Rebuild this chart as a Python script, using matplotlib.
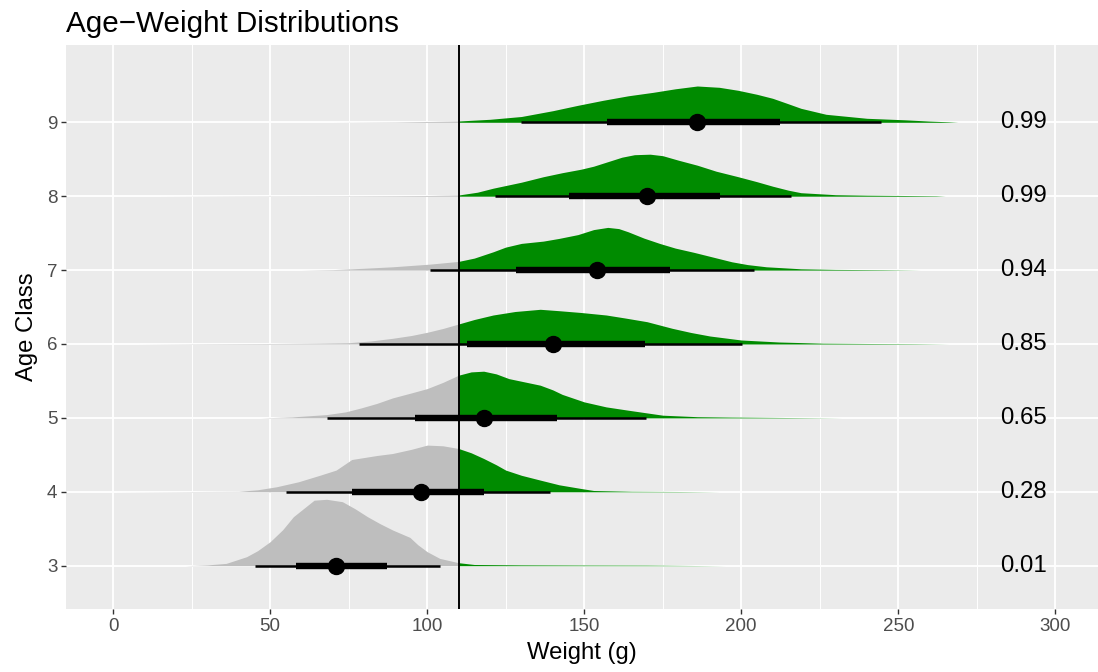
import numpy as np
import matplotlib
matplotlib.use("Agg")
import matplotlib.pyplot as plt

plt.rcParams['font.family'] = ['Liberation Sans', 'DejaVu Sans']

# age classes and the share of posterior mass above the threshold
age_classes = [3, 4, 5, 6, 7, 8, 9]
prob_labels = ["0.01", "0.28", "0.65", "0.85", "0.94", "0.99", "0.99"]
threshold = 110

# point estimate and intervals (66% thick, 95% thin), weight in g
medians = [70.9, 98.0, 118.1, 140.1, 154.1, 170.1, 186.0]
inner_lo = [58.1, 76.1, 96.1, 112.7, 128.2, 145.1, 157.2]
inner_hi = [87.1, 118.1, 141.2, 169.3, 177.2, 193.1, 212.2]
outer_lo = [45.1, 55.0, 68.0, 78.2, 100.9, 121.6, 129.8]
outer_hi = [104.0, 139.1, 169.8, 200.2, 204.1, 215.8, 244.6]

# slab outlines: weight and density height (arbitrary units)
slab_x_3 = [23, 30, 36, 42.5, 46, 50, 54, 57.4, 61, 64, 68, 73, 77, 81, 85, 89,
            94.5, 97, 100, 104, 110, 115, 130, 150, 170, 195]
slab_h_3 = [0, 0.8, 2.3, 9, 15, 24, 36, 49, 58, 65.5, 66.4, 64, 57, 49, 42, 35.7,
            28.3, 21, 14, 7.3, 3, 1.2, 0.8, 0.6, 0.5, 0]
slab_x_4 = [1, 20, 40, 46, 52, 59, 66, 71, 76, 84, 89, 95, 100, 105, 110, 114,
            118, 122, 125, 130, 136, 142, 149, 153, 165, 180, 193]
slab_h_4 = [0, 0.2, 0.5, 2, 5, 10, 16.7, 21.7, 32.3, 36.3, 38.3, 42.5, 46.7, 46,
            43.3, 39, 33.3, 27, 21.7, 16.5, 11.7, 7, 3.3, 1.3, 0.5, 0.3, 0]
slab_x_5 = [47, 57, 68, 74, 79, 84, 89, 95, 100, 105, 110, 114, 118, 122, 126,
            131, 136, 140, 143, 150, 157, 164, 175, 186, 197, 214, 232]
slab_h_5 = [0, 1, 3.3, 6, 10, 14.5, 20, 25, 29.3, 35.5, 42.7, 46, 46.7, 44, 39.3,
            36, 32.7, 28, 23.5, 16, 11, 7.7, 2.7, 1.2, 0.8, 0.4, 0]
slab_x_6 = [8, 30, 50, 65, 75, 82, 89, 95, 100, 105, 110, 115, 121, 128, 136,
            142, 149, 157, 163, 170, 178, 184, 190, 200, 212, 226, 241, 255, 266]
slab_h_6 = [0, 0.3, 0.5, 0.9, 1.3, 3, 5.7, 8.5, 11.7, 15.5, 20, 24.5, 29, 32.5,
            34.7, 33.3, 31.5, 29, 26, 22.3, 15.7, 11.5, 8, 4, 2, 0.8, 0.5, 0.3, 0]
slab_x_7 = [60, 70, 79, 89, 101, 110, 115, 121, 125, 130, 137, 142, 148, 153,
            157.5, 161, 164, 169, 174, 179, 185, 191, 197, 202, 208, 219, 230, 245, 257]
slab_h_7 = [0, 0.5, 1.7, 3.3, 6, 8.7, 12, 18.3, 23, 26.7, 29, 31.7, 35.5, 40.5,
            42.7, 41.5, 38.3, 32, 26.7, 22, 17.7, 13, 8.3, 5.5, 3.3, 1.3, 0.7, 0.4, 0]
slab_x_8 = [15, 40, 70, 90, 100, 110, 116, 121, 130, 137, 143, 149, 153, 158,
            162, 166, 171, 175, 180, 186, 192, 199, 205, 210, 215, 219, 230, 240,
            252, 262, 265]
slab_h_8 = [0, 0.2, 0.3, 0.5, 0.7, 1.2, 4, 8, 14, 19.5, 23.5, 27, 30, 35, 39,
            41.5, 42, 40.5, 36, 31, 25, 19.5, 14.5, 10, 6, 3.5, 1.5, 1, 0.7, 0.4, 0]
slab_x_9 = [70, 90, 110, 120, 130, 140, 148, 156, 164, 172, 179, 186, 193, 199,
            205, 210, 215, 219, 227, 240, 252, 260, 266, 269]
slab_h_9 = [0, 0.3, 1.3, 3, 5.8, 11.6, 17, 22, 26.5, 30, 33.5, 36.3, 35, 32, 28,
            24, 18.5, 14, 8, 4, 2.5, 1.2, 0.5, 0]

slabs_x = [slab_x_3, slab_x_4, slab_x_5, slab_x_6, slab_x_7, slab_x_8, slab_x_9]
slabs_h = [slab_h_3, slab_h_4, slab_h_5, slab_h_6, slab_h_7, slab_h_8, slab_h_9]

slab_scale = 1 / 73.9
col_below = "#BEBEBE"
col_above = "#008B00"

fig = plt.figure(figsize=(10.98, 6.72), dpi=100)
ax = fig.add_axes([66 / 1098, 1 - 609 / 672, 1 - 66 / 1098, (609 - 45) / 672])
ax.set_facecolor("#EBEBEB")
for s in ax.spines.values():
    s.set_visible(False)

ax.set_xlim(-15, 313.6)
ax.set_ylim(2.414, 10.046)

# grid
for gx in range(25, 300, 50):
    ax.axvline(gx, color="white", lw=0.7, zorder=0)
for gx in range(0, 301, 50):
    ax.axvline(gx, color="white", lw=1.3, zorder=0)
for gy in age_classes:
    ax.axhline(gy, color="white", lw=1.3, zorder=0)

for i, age in enumerate(age_classes):
    xs = np.array(slabs_x[i], dtype=float)
    hs = np.array(slabs_h[i], dtype=float) * slab_scale
    lo = xs <= threshold
    hi = xs >= threshold
    ax.fill_between(xs[lo], age, age + hs[lo], color=col_below, lw=0, zorder=2)
    ax.fill_between(xs[hi], age, age + hs[hi], color=col_above, lw=0, zorder=2)

    ax.plot([outer_lo[i], outer_hi[i]], [age, age], color="black", lw=1.8,
            solid_capstyle="butt", zorder=4)
    ax.plot([inner_lo[i], inner_hi[i]], [age, age], color="black", lw=4.6,
            solid_capstyle="butt", zorder=4)
    ax.plot(medians[i], age, "o", color="black", ms=11.5, zorder=5)
    ax.text(290, age, prob_labels[i], fontsize=17.3, ha="center", va="center",
            color="black", zorder=6)

ax.axvline(threshold, color="black", lw=1.4, zorder=3)

ax.set_xticks(range(0, 301, 50))
ax.set_yticks(age_classes)
ax.set_yticklabels([str(a) for a in age_classes])
ax.tick_params(axis="both", colors="#333333", length=3.3, width=1.0,
               labelsize=13.5, labelcolor="#4D4D4D", pad=3)
ax.set_xlabel("Weight (g)", fontsize=17.2, labelpad=5)
ax.set_ylabel("Age Class", fontsize=17.2, labelpad=6)

fig.text(66 / 1098, 1 - 32 / 672, "Age\u2212Weight Distributions", fontsize=21.3,
         ha="left", va="baseline")

fig.savefig("out.png", dpi=100)
